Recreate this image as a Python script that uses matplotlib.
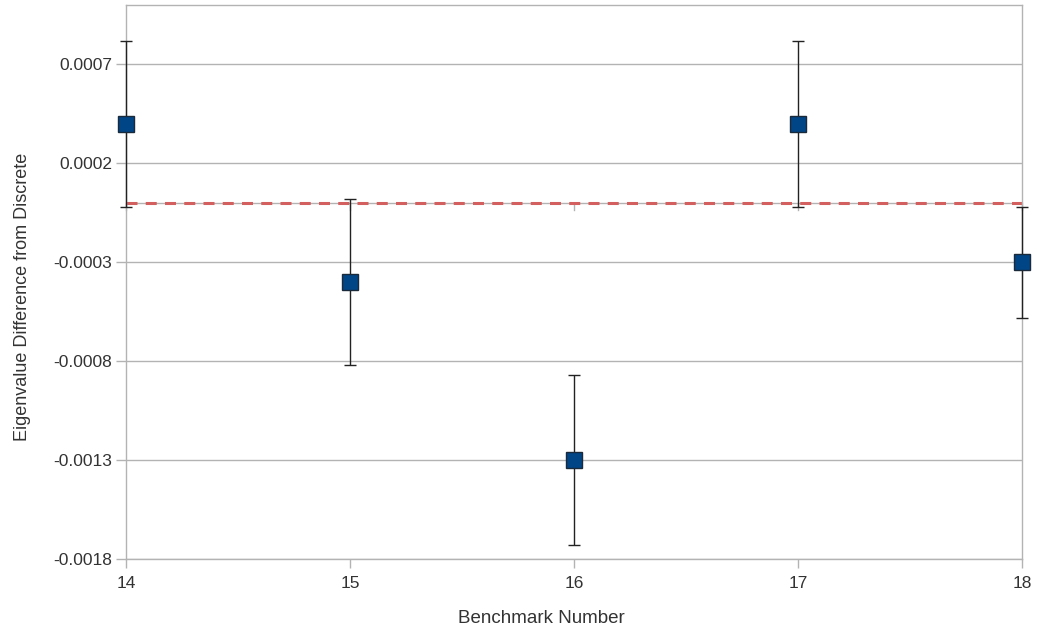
import matplotlib
matplotlib.use("Agg")
import matplotlib.pyplot as plt

# data
benchmarks = [14, 15, 16, 17, 18]
diffs = [0.0004, -0.0004, -0.0013, 0.0004, -0.0003]
errors = [0.00042, 0.00042, 0.00043, 0.00042, 0.00028]
yticks = [0.0007, 0.0002, -0.0003, -0.0008, -0.0013, -0.0018]

plt.rcParams['font.family'] = ['Liberation Sans', 'DejaVu Sans']

fig = plt.figure(figsize=(10.37, 6.31), dpi=100)
ax = fig.add_axes([126 / 1037, 1 - 559 / 631, (1022 - 126) / 1037, (559 - 5) / 631])

grid_c = "#b3b3b3"
text_c = "#333333"
ax.set_xlim(14, 18)
ax.set_ylim(-0.0018, 0.001)
ax.set_yticks(yticks)
ax.set_yticklabels([f"{v:.4f}" for v in yticks])
ax.set_xticks(benchmarks)
ax.grid(axis="y", color=grid_c, linewidth=1)
ax.set_axisbelow(True)
for s in ax.spines.values():
    s.set_color(grid_c)
    s.set_linewidth(1)
ax.tick_params(colors=grid_c, labelcolor=text_c, labelsize=12.5, width=1)
ax.tick_params(axis="x", length=6.5, pad=6)
ax.tick_params(axis="y", length=7, pad=3)

# x axis line at zero with small ticks
ax.axhline(0, color=grid_c, linewidth=1, zorder=1)
for b in benchmarks:
    ax.plot([b, b], [0, -0.000035], color=grid_c, linewidth=1, zorder=1, clip_on=False)

ax.axhline(0, color="#d45f5f", linewidth=2.2, linestyle=(0, (3.6, 2.7)), zorder=2)

ax.errorbar(benchmarks, diffs, yerr=errors, fmt="s", color="#004586",
            markersize=11.5, markeredgecolor="#1a2a3a", markeredgewidth=1,
            ecolor="#222222", elinewidth=1, capsize=4.4, capthick=1,
            zorder=3, clip_on=False)

ax.set_xlabel("Benchmark Number", fontsize=13.5, color=text_c)
ax.xaxis.set_label_coords(0.4637, -0.092)
ax.set_ylabel("Eigenvalue Difference from Discrete", fontsize=13, color=text_c)
ax.yaxis.set_label_coords(-0.106, 0.473)

fig.savefig("out.png", dpi=100)
